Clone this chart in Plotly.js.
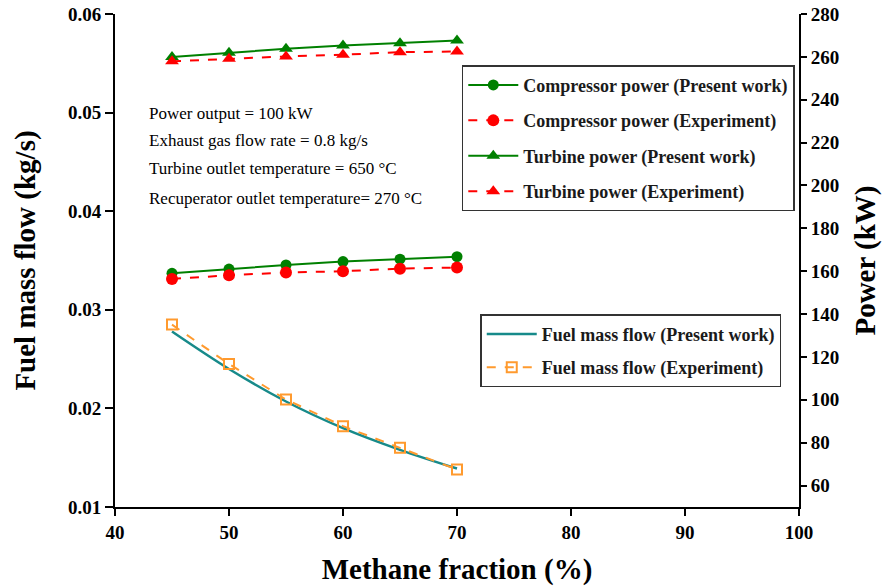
<!DOCTYPE html>
<html>
<head>
<meta charset="utf-8">
<script src="https://cdn.plot.ly/plotly-3.0.1.min.js"></script>
<style>
  html, body { margin: 0; padding: 0; background: #fff; }
  #chart { width: 882px; height: 588px; }
</style>
</head>
<body>
<div id="chart"></div>
<script>
// Methane fraction (%) in the fuel blend
const methane = [45, 50, 55, 60, 65, 70];

// Fuel mass flow (kg/s)
const fuelPresent = [0.0278, 0.0240, 0.0207, 0.0180, 0.0158, 0.0139];
const fuelExperiment = [0.0285, 0.0245, 0.0209, 0.0182, 0.0160, 0.0138];

// Compressor power (kW)
const compPresent = [159.0, 161.0, 162.9, 164.5, 165.6, 166.8];
const compExperiment = [156.4, 158.1, 159.4, 160.0, 161.2, 161.7];

// Turbine power (kW)
const turbPresent = [259.9, 261.9, 263.8, 265.3, 266.4, 267.6];
const turbExperiment = [257.9, 259.1, 260.2, 261.0, 262.2, 262.5];

const GREEN = '#008000';
const RED = '#ff0000';
const TEAL = '#178a8a';
const ORANGE = '#ff9a2e';
const SERIF = '"Liberation Serif", "Times New Roman", serif';

const traces = [
  {
    x: methane, y: compPresent, yaxis: 'y2', name: 'Compressor power (Present work)',
    mode: 'lines+markers', line: {color: GREEN, width: 2},
    marker: {symbol: 'circle', size: 11, color: GREEN},
    legend: 'legend', legendgroup: 'a'
  },
  {
    x: methane, y: compExperiment, yaxis: 'y2', name: 'Compressor power (Experiment)',
    mode: 'lines+markers', line: {color: RED, width: 2, dash: 'dash'},
    marker: {symbol: 'circle', size: 12, color: RED},
    legend: 'legend', legendgroup: 'b'
  },
  {
    x: methane, y: turbPresent, yaxis: 'y2', name: 'Turbine power (Present work)',
    mode: 'lines+markers', line: {color: GREEN, width: 2},
    marker: {symbol: 'triangle-up', size: 12, color: GREEN},
    legend: 'legend', legendgroup: 'c'
  },
  {
    x: methane, y: turbExperiment, yaxis: 'y2', name: 'Turbine power (Experiment)',
    mode: 'lines+markers', line: {color: RED, width: 2, dash: 'dash'},
    marker: {symbol: 'triangle-up', size: 12, color: RED},
    legend: 'legend', legendgroup: 'd'
  },
  {
    x: methane, y: fuelPresent, yaxis: 'y', name: 'Fuel mass flow (Present work)',
    mode: 'lines', line: {color: TEAL, width: 2.5, shape: 'spline'},
    legend: 'legend2', legendgroup: 'e'
  },
  {
    x: methane, y: fuelExperiment, yaxis: 'y', name: 'Fuel mass flow (Experiment)',
    mode: 'lines+markers', line: {color: ORANGE, width: 2, dash: 'dash'},
    marker: {symbol: 'square-open', size: 10, color: ORANGE, line: {width: 2}},
    legend: 'legend2', legendgroup: 'f'
  }
];

const legendFont = {family: SERIF, size: 18, color: '#1a1a1a', weight: 'bold'};
const tickFont = {family: SERIF, size: 19, color: '#000', weight: 'bold'};
const titleFont = {family: SERIF, size: 29, color: '#000', weight: 'bold'};
const noteFont = {family: SERIF, size: 17, color: '#000'};

const notes = [
  'Power output = 100 kW',
  'Exhaust gas flow rate = 0.8 kg/s',
  'Turbine outlet temperature = 650 °C',
  'Recuperator outlet temperature= 270 °C'
];
const noteY = [0.0499, 0.0472, 0.0443, 0.0413];

const layout = {
  width: 882, height: 588,
  margin: {l: 115, r: 83, t: 14, b: 81},
  paper_bgcolor: '#fff', plot_bgcolor: '#fff',
  showlegend: true,
  xaxis: {
    range: [40, 100], dtick: 10, tick0: 40,
    showline: true, linecolor: '#000', linewidth: 2,
    ticks: 'outside', ticklen: 7, tickwidth: 2, tickcolor: '#000',
    showgrid: false, zeroline: false, tickfont: tickFont,
    title: {text: 'Methane fraction (%)', font: titleFont, standoff: 17}
  },
  yaxis: {
    range: [0.01, 0.06], dtick: 0.01, tick0: 0.01, tickformat: '.2f',
    showline: true, linecolor: '#000', linewidth: 2,
    ticks: 'outside', ticklen: 8, tickwidth: 2, tickcolor: '#000',
    showgrid: false, zeroline: false, tickfont: tickFont,
    title: {text: 'Fuel mass flow (kg/s)', font: titleFont, standoff: 24}
  },
  yaxis2: {
    overlaying: 'y', side: 'right',
    range: [50, 280], dtick: 20, tick0: 60,
    showline: true, linecolor: '#000', linewidth: 2,
    ticks: 'outside', ticklen: 6, tickwidth: 2, tickcolor: '#000',
    showgrid: false, zeroline: false, tickfont: tickFont,
    title: {text: 'Power (kW)', font: titleFont, standoff: 20}
  },
  legend: {
    x: 0.507, y: 0.896, xanchor: 'left', yanchor: 'top',
    bgcolor: '#fff', bordercolor: '#333', borderwidth: 1.5,
    font: legendFont, itemwidth: 50, tracegroupgap: 9,
    traceorder: 'grouped'
  },
  legend2: {
    x: 0.534, y: 0.391, xanchor: 'left', yanchor: 'top',
    bgcolor: '#fff', bordercolor: '#333', borderwidth: 1.5,
    font: legendFont, itemwidth: 50, tracegroupgap: 7,
    traceorder: 'grouped'
  },
  annotations: notes.map((t, i) => ({
    text: t, x: 42.8, y: noteY[i], xref: 'x', yref: 'y',
    xanchor: 'left', yanchor: 'middle', showarrow: false, font: noteFont
  }))
};

Plotly.newPlot('chart', traces, layout, {displayModeBar: false, staticPlot: true});
</script>
</body>
</html>
